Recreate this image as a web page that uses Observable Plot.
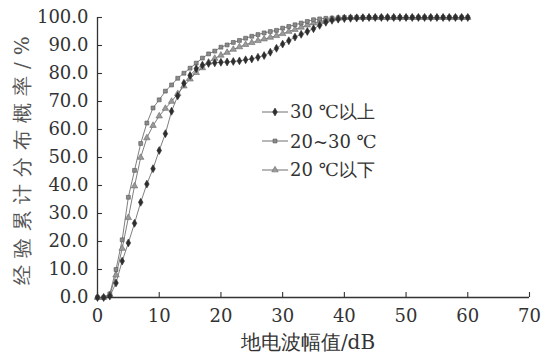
<!DOCTYPE html>
<html><head><meta charset="utf-8">
<script src="https://cdn.jsdelivr.net/npm/d3@7"></script>
<script src="https://cdn.jsdelivr.net/npm/@observablehq/plot@0.6"></script>
<style>
body{margin:0;background:#fff;}
#wrap{position:relative;width:551px;height:359px;font-family:"DejaVu Serif","Liberation Serif","Noto Serif",serif;}
.leg{position:absolute;left:262px;height:20px;font-size:18px;color:#333;display:flex;align-items:center;white-space:nowrap;}
.leg svg{margin-right:2px;}
svg text{font-family:"DejaVu Serif","Liberation Serif","Noto Serif",serif;}
</style></head><body><div id="wrap"></div>
<script>
// amplitude (dB)
const amplitude = [0,1,2,3,4,5,6,7,8,9,10,11,12,13,14,15,16,17,18,19,20,21,22,23,24,25,26,27,28,29,30,31,32,33,34,35,36,37,38,39,40,41,42,43,44,45,46,47,48,49,50,51,52,53,54,55,56,57,58,59,60];
// 30 ℃以上
const above30 = [0,0,0.5,5.2,13,19.5,26.5,34,40.5,46,52.5,58.5,66.5,72,76.5,79.3,81.7,83,83.6,83.8,84,84.1,84.3,84.5,84.9,85.2,85.8,86.4,87.6,89,90.5,91.7,93,94,95,96,97.2,98.3,99,99.4,99.6,99.7,99.8,99.9,100,100,100,100,100,100,100,100,100,100,100,100,100,100,100,100,100];
// 20~30 ℃
const from20to30 = [0,0,1.3,10,20.6,35.8,45.4,55,62.3,67.7,70.6,73.7,75.9,78.3,80.1,81.9,83.7,85.5,87,88,89.4,90.2,91.1,91.8,92.6,93.3,93.9,94.5,95,95.4,96.2,96.8,97.4,98,98.6,99.2,99.5,99.7,99.8,99.9,100,100,100,100,100,100,100,100,100,100,100,100,100,100,100,100,100,100,100,100,100];
// 20 ℃以下
const below20 = [0,0,1,8,17.5,28.5,39.8,50,57,61.4,64.8,67.5,70,72.8,75.5,78,80.3,82,84,85.4,86.5,87.5,88.6,89.5,90.3,91,91.7,92.3,92.9,93.5,94.2,95,95.7,96.5,97.3,98,98.6,99,99.4,99.7,99.9,100,100,100,100,100,100,100,100,100,100,100,100,100,100,100,100,100,100,100,100];
const seriesNames = ["30 ℃以上","20~30 ℃","20 ℃以下"];
const xTicks = [0,10,20,30,40,50,60,70];
const yTicks = [0,10,20,30,40,50,60,70,80,90,100];
const xLabel = "地电波幅值/dB";
const yLabel = "经验累计分布概率/%";

const styles = [
  {symbol:"diamond", fill:"#2e2e2e", stroke:"#2e2e2e", r:2.4},
  {symbol:"square", fill:"#8a8a8a", stroke:"#555", r:2.2},
  {symbol:"triangle", fill:"#9a9a9a", stroke:"#6a6a6a", r:2.4}
];
const seriesValues = [above30, from20to30, below20];
const rows = seriesValues.map((vals,k)=>amplitude.map((a,i)=>({x:a,y:vals[i],s:seriesNames[k]})));

const W=551,H=359,mL=97,mR=22,mT=17,mB=62;
const pw=W-mL-mR, ph=H-mT-mB;
const font="'DejaVu Serif','Liberation Serif','Noto Serif',serif";

const lineMarks = [];
rows.forEach((r,k)=>{
  lineMarks.push(Plot.line(r,{x:"x",y:"y",stroke:"#707070",strokeWidth:0.9}));
});
[2,1,0].forEach(k=>{
  const st=styles[k];
  lineMarks.push(Plot.dot(rows[k],{x:"x",y:"y",symbol:()=>st.symbol,r:st.r,fill:st.fill,stroke:st.stroke,strokeWidth:0.6}));
});

const chart = Plot.plot({
  width:W,height:H,marginLeft:mL,marginRight:mR,marginTop:mT,marginBottom:mB,
  style:{fontFamily:font,fontSize:"18px",color:"#333",background:"#fff"},
  symbol:{type:"identity"},
  x:{domain:[0,70]},
  y:{domain:[0,100]},
  marks:[
    Plot.axisX(xTicks,{tickSize:0,tickPadding:12,label:null,fill:"#333"}),
    Plot.axisY(yTicks,{tickSize:0,tickPadding:9,tickFormat:d=>d.toFixed(1),label:null,fill:"#333"}),
    Plot.ruleX(xTicks,{x:d=>d,insetTop:ph-5,stroke:"#333",strokeWidth:1.1}),
    Plot.ruleY(yTicks,{y:d=>d,insetRight:pw-5,stroke:"#333",strokeWidth:1.1}),
    Plot.ruleX([0],{stroke:"#333",strokeWidth:1.3}),
    Plot.ruleY([0],{stroke:"#333",strokeWidth:1.3}),
    ...lineMarks
  ]
});

const svg = d3.select(chart);
svg.append("text").attr("x",308).attr("y",349).attr("text-anchor","middle")
  .attr("font-size",20).attr("fill","#333").text(xLabel);
svg.append("text").attr("transform","translate(29,157) rotate(-90)").attr("text-anchor","middle")
  .attr("font-size",20).attr("fill","#555").attr("letter-spacing","7px").text(yLabel);

const wrap = document.getElementById("wrap");
wrap.appendChild(chart);

const legTops=[102,131,160];
seriesNames.forEach((name,k)=>{
  const st=styles[k];
  const div=document.createElement("div");
  div.className="leg"; div.style.top=legTops[k]+"px";
  const sw=d3.create("svg").attr("width",26).attr("height",12);
  sw.append("line").attr("x1",0).attr("x2",26).attr("y1",6).attr("y2",6).attr("stroke","#707070").attr("stroke-width",1);
  sw.append("path").attr("d",d3.symbol(st.symbol==="diamond"?d3.symbolDiamond:st.symbol==="square"?d3.symbolSquare:d3.symbolTriangle, Math.PI*st.r*st.r)())
    .attr("transform","translate(13,6)").attr("fill",st.fill).attr("stroke",st.stroke).attr("stroke-width",0.6);
  div.appendChild(sw.node());
  const sp=document.createElement("span"); sp.textContent=name; div.appendChild(sp);
  wrap.appendChild(div);
});
</script></body></html>
